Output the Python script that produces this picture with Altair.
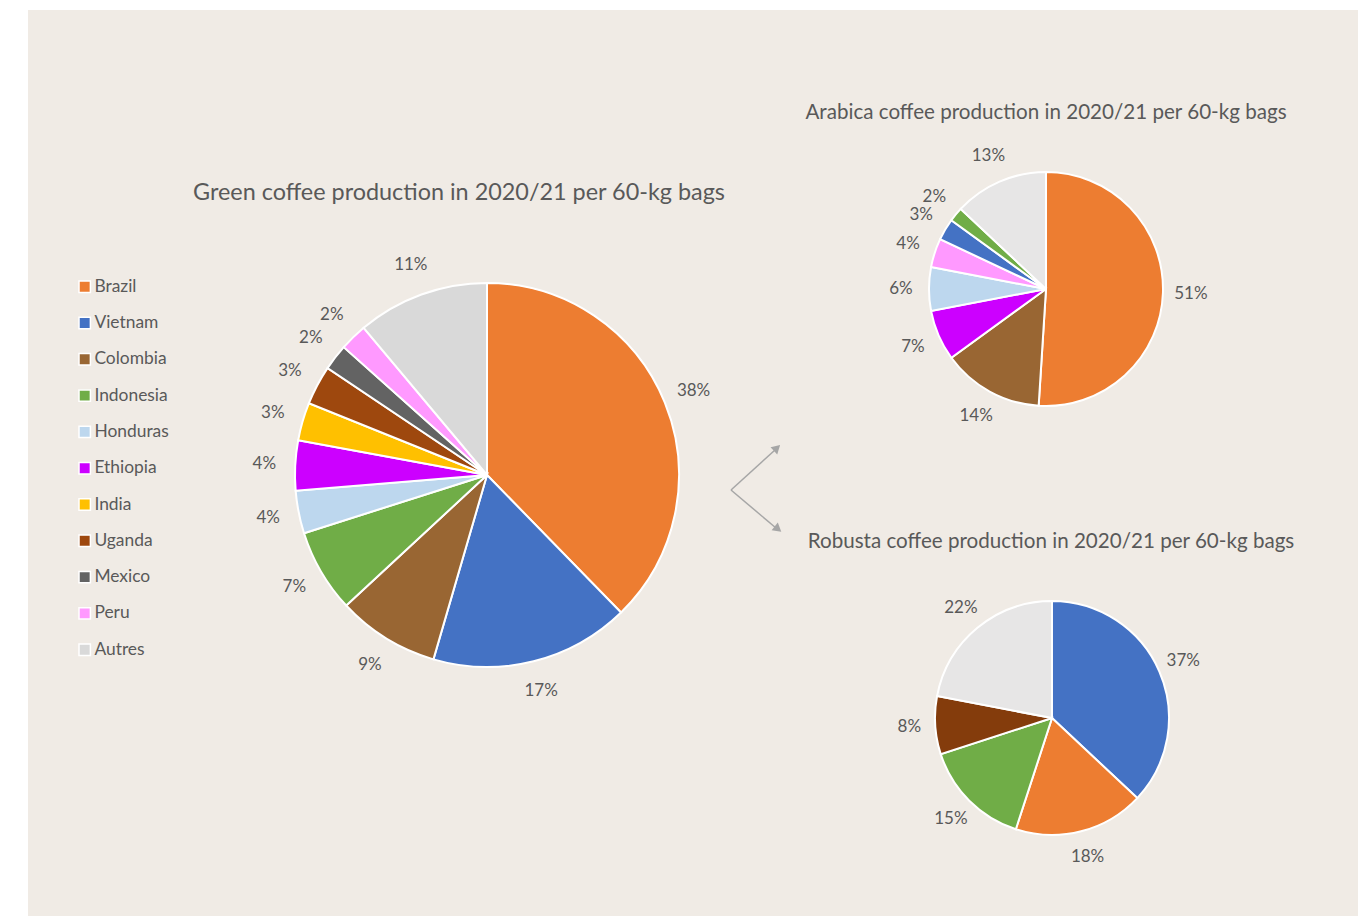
import altair as alt
import pandas as pd

# ---------------- data ----------------
countries = ["Brazil", "Vietnam", "Colombia", "Indonesia", "Honduras", "Ethiopia",
             "India", "Uganda", "Mexico", "Peru", "Autres"]
shares = [37.7, 16.8, 8.6, 7.0, 3.6, 4.2, 3.2, 3.3, 2.2, 2.3, 11.1]
colors = ["#ED7D31", "#4472C4", "#996633", "#70AD47", "#BDD7EE", "#CC00FF",
          "#FFC000", "#9E480E", "#636363", "#FF99FF", "#D9D9D9"]

arabica_names = ["Brazil", "Colombia", "Ethiopia", "Honduras", "Peru", "Vietnam", "Indonesia", "Autres"]
arabica_shares = [51, 14, 7, 6, 4, 3, 2, 13]
arabica_colors = ["#ED7D31", "#996633", "#CC00FF", "#BDD7EE", "#FF99FF", "#4472C4", "#70AD47", "#E7E6E6"]

robusta_names = ["Vietnam", "Brazil", "Indonesia", "Uganda", "Autres"]
robusta_shares = [37, 18, 15, 8, 22]
robusta_colors = ["#4472C4", "#ED7D31", "#70AD47", "#843C0C", "#E7E6E6"]

title_main = "Green coffee production in 2020/21 per 60-kg bags"
title_arabica = "Arabica coffee production in 2020/21 per 60-kg bags"
title_robusta = "Robusta coffee production in 2020/21 per 60-kg bags"

FONT = "Lato"
TXT = "#595959"

main_df = pd.DataFrame({"name": countries, "value": shares, "idx": range(len(countries))})
ara_df = pd.DataFrame({"name": arabica_names, "value": arabica_shares,
                       "hex": arabica_colors, "idx": range(len(arabica_names))})
rob_df = pd.DataFrame({"name": robusta_names, "value": robusta_shares,
                       "hex": robusta_colors, "idx": range(len(robusta_names))})
dummy = pd.DataFrame({"a": [0]})

W, H = 1350, 908

# background panel
panel = alt.Chart(dummy).mark_rect(color="#F0EBE5").encode(
    x=alt.value(20), x2=alt.value(W), y=alt.value(2), y2=alt.value(H))


def pie(df, cx, cy, r, lr, color_enc):
    base = alt.Chart(df).encode(
        theta=alt.Theta("value:Q", stack=True),
        order=alt.Order("idx:Q"),
        x=alt.value(cx), y=alt.value(cy),
    )
    arc = base.mark_arc(radius=r, stroke="white", strokeWidth=2).encode(color=color_enc)
    lab = base.transform_calculate(
        label="format(datum.value, '.0f') + '%'"
    ).mark_text(radius=lr, font=FONT, fontSize=17, color=TXT,
                align="center", baseline="middle").encode(text="label:N")
    return arc, lab


main_color = alt.Color("name:N", scale=alt.Scale(domain=countries, range=colors),
                       sort=countries,
                       legend=alt.Legend(title=None, orient="none", legendX=68, legendY=270,
                                         symbolType="square", symbolSize=130,
                                         symbolStrokeColor="white", symbolStrokeWidth=1.5,
                                         labelFont=FONT, labelFontSize=17.4, labelColor=TXT,
                                         rowPadding=17.3, labelOffset=1))
main_arc, main_lab = pie(main_df, 479, 467, 192, 223, main_color)
ara_arc, ara_lab = pie(ara_df, 1038, 281, 117, 145, alt.Color("hex:N", scale=None))
rob_arc, rob_lab = pie(rob_df, 1044, 710, 117, 143, alt.Color("hex:N", scale=None))


def title(txt, x, y, size):
    return alt.Chart(dummy).mark_text(text=txt, font=FONT, fontSize=size, color=TXT,
                                      align="center", baseline="middle").encode(
        x=alt.value(x), y=alt.value(y))


t1 = title(title_main, 451, 185, 23.4)
t2 = title(title_arabica, 1038, 105, 20.6)
t3 = title(title_robusta, 1043, 534, 20.6)

# arrows
ARROW = "#A6A6A6"
a1 = alt.Chart(dummy).mark_rule(color=ARROW, strokeWidth=1.5).encode(
    x=alt.value(723), y=alt.value(482), x2=alt.value(767), y2=alt.value(442))
a2 = alt.Chart(dummy).mark_rule(color=ARROW, strokeWidth=1.5).encode(
    x=alt.value(723), y=alt.value(482), x2=alt.value(768), y2=alt.value(520))
h1 = alt.Chart(dummy).mark_point(shape="triangle-up", filled=True, color=ARROW, opacity=1,
                                 size=95, angle=47).encode(x=alt.value(769), y=alt.value(440))
h2 = alt.Chart(dummy).mark_point(shape="triangle-up", filled=True, color=ARROW, opacity=1,
                                 size=95, angle=129).encode(x=alt.value(770), y=alt.value(521))

chart = alt.layer(
    panel, main_arc, main_lab, ara_arc, ara_lab, rob_arc, rob_lab, t1, t2, t3, a1, a2, h1, h2
).resolve_scale(color="independent", theta="independent").properties(
    width=W, height=H, autosize=alt.AutoSizeParams(type="none"), padding=0,
    background="white"
).configure_view(stroke=None)

chart.save("out.html", embed_options={"renderer": "svg", "actions": False})
